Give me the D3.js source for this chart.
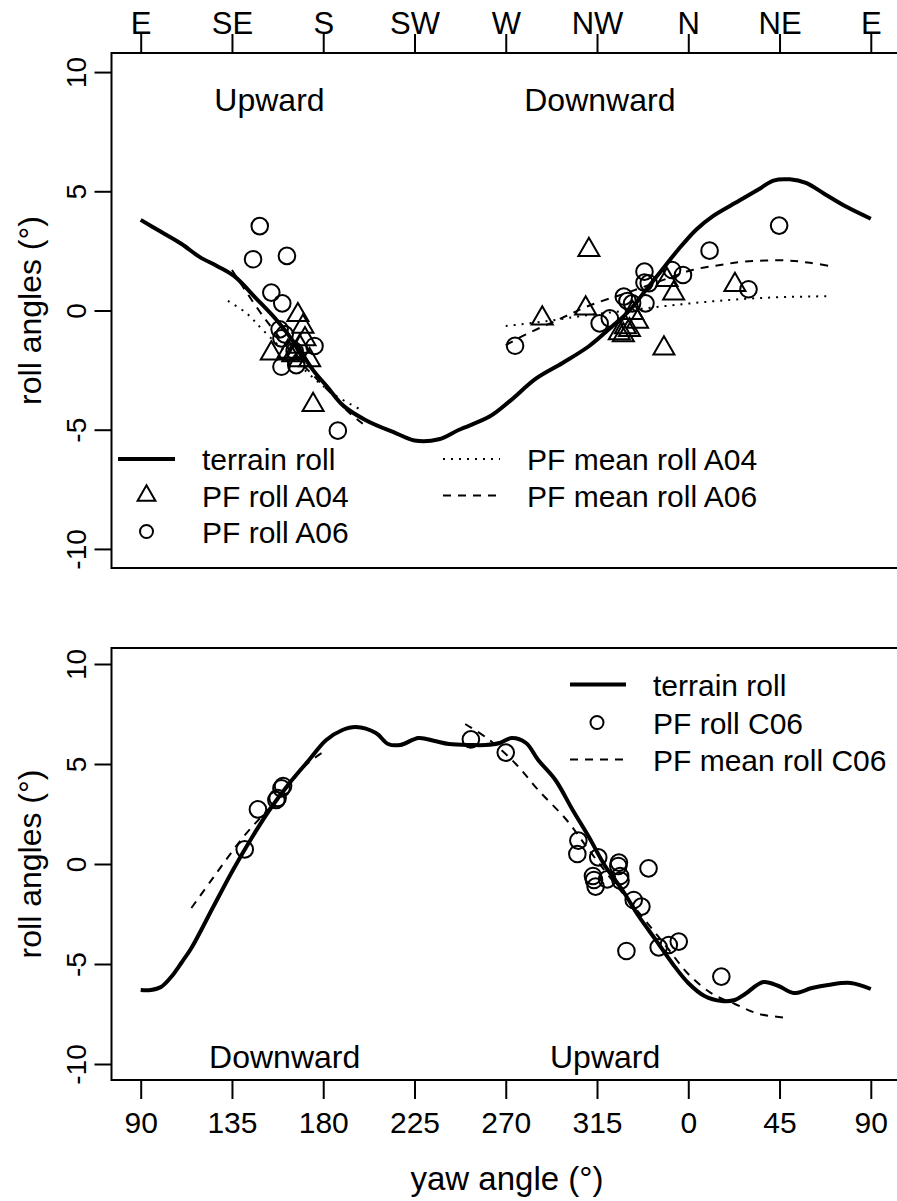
<!DOCTYPE html>
<html>
<head>
<meta charset="utf-8">
<script src="https://cdn.jsdelivr.net/npm/d3@7/dist/d3.min.js"></script>
<style>
  body { margin: 0; background: #fff; }
  svg { display: block; font-family: "Liberation Sans", Arial, sans-serif; }
</style>
</head>
<body>
<script>
// axis ticks (yaw unwrapped from 90 to 450)
var yawTicks = [90, 135, 180, 225, 270, 315, 360, 405, 450];
var yawTickLabels = ["90", "135", "180", "225", "270", "315", "0", "45", "90"];
var compassLabels = ["E", "SE", "S", "SW", "W", "NW", "N", "NE", "E"];
var rollTicks = [-10, -5, 0, 5, 10];

// top panel: terrain roll
var topTerrainYaw = [90, 100, 110, 119, 128, 136, 147, 157, 167, 175, 182, 190, 201, 216, 225, 237, 247, 262, 272, 285, 298, 311, 322, 331, 339, 347, 355, 364, 372, 385, 395, 402, 410, 418, 427, 438, 450];
var topTerrainRoll = [3.8, 3.3, 2.8, 2.25, 1.85, 1.45, 0.5, -0.4, -1.5, -2.5, -3.2, -4.0, -4.6, -5.15, -5.45, -5.4, -5.0, -4.45, -3.8, -2.85, -2.2, -1.5, -0.7, 0.0, 0.85, 1.7, 2.55, 3.4, 3.95, 4.6, 5.1, 5.45, 5.5, 5.35, 4.9, 4.35, 3.85];

// top panel: PF mean roll A04 (two sections)
var meanA04Yaw1 = [133, 142, 150, 167, 185, 199.5];
var meanA04Roll1 = [0.4, -0.1, -0.8, -2.2, -3.5, -4.2];
var meanA04Yaw2 = [270, 290, 310, 330, 350, 370, 390, 410, 431];
var meanA04Roll2 = [-0.65, -0.45, -0.2, 0.0, 0.2, 0.37, 0.5, 0.57, 0.6];

// top panel: PF mean roll A06 (two sections)
var meanA06Yaw1 = [135, 150, 167, 183, 193, 199.5];
var meanA06Roll1 = [1.7, -0.2, -2.0, -3.4, -4.3, -4.75];
var meanA06Yaw2 = [270, 280, 298, 311, 330, 350, 362, 375, 388, 408, 420, 431];
var meanA06Roll2 = [-1.45, -1.0, -0.3, 0.2, 0.75, 1.35, 1.7, 1.9, 2.05, 2.1, 2.0, 1.85];

// top panel: PF roll A04 points
var ptsA04Yaw = [167.5, 170, 154.4, 168.4, 166.7, 165, 173.3, 168.4, 175, 162.6, 171,
                 311, 288, 309.4, 352.8, 349.5, 383, 348, 335, 332.5, 331, 328, 326, 329];
var ptsA04Roll = [-0.19, -0.68, -1.8, -1.52, -1.8, -1.87, -2.08, -2.08, -3.96, -1.73, -1.2,
                  2.54, -0.33, 0.09, 0.72, 1.28, 1.07, -1.59, -0.47, -0.1, -0.82, -1.03, -0.95, -0.7];

// top panel: PF roll A06 points
var ptsA06Yaw = [148.7, 145.4, 162.1, 154.4, 159.8, 158.5, 159.4, 175.7, 159.4, 166.7, 187.2, 165.9, 161,
                 274.6, 316.3, 321.3, 328.2, 332.3, 338.9, 338.4, 338.4, 340.5, 352, 357.4, 370.5, 389.7, 404.8, 330];
var ptsA06Roll = [3.54, 2.15, 2.29, 0.75, 0.3, -0.79, -1.17, -1.49, -2.36, -2.29, -5.04, -1.7, -1.0,
                  -1.48, -0.54, -0.33, 0.58, 0.3, 0.3, 1.63, 1.17, 1.14, 1.7, 1.49, 2.51, 0.89, 3.56, 0.4];

// bottom panel: terrain roll
var botTerrainYaw = [90, 95, 100, 105, 110, 115, 126, 135.5, 145, 153.5, 163, 173, 181.5, 189.5, 196, 206, 212, 218, 227, 235, 242, 253, 260, 267, 273, 280, 286, 294.5, 303, 311, 319, 327.5, 335.5, 344, 352, 360, 368, 376.5, 383, 388, 397, 404.5, 412, 421, 429, 440, 450];
var botTerrainRoll = [-6.3, -6.3, -6.15, -5.65, -4.95, -4.2, -2.1, -0.3, 1.35, 2.7, 4.0, 5.2, 6.2, 6.7, 6.85, 6.55, 6.0, 5.95, 6.3, 6.15, 6.0, 5.95, 5.95, 6.05, 6.3, 6.05, 5.2, 4.2, 2.7, 1.35, -0.1, -1.3, -2.6, -3.8, -4.95, -5.95, -6.6, -6.85, -6.8, -6.5, -5.9, -6.1, -6.45, -6.2, -6.05, -5.95, -6.25];

// bottom panel: PF mean roll C06 (two sections)
var meanC06Yaw1 = [115, 126, 141, 158, 172, 180];
var meanC06Roll1 = [-2.2, -0.65, 1.4, 3.3, 5.0, 5.6];
var meanC06Yaw2 = [250, 262, 275, 286, 300, 311, 324, 337, 349, 360, 372, 383, 395, 410];
var meanC06Roll2 = [7.0, 6.2, 5.0, 3.7, 2.2, 0.7, -1.0, -2.6, -4.1, -5.5, -6.5, -7.0, -7.5, -7.7];

// bottom panel: PF roll C06 points
var ptsC06Yaw = [141.3, 147.8, 156.9, 157.5, 159.4, 160.2, 252.8, 270, 305.8, 305.3, 315.6, 325.8, 325.5, 340.4, 313.5, 314.3, 313, 320, 326.6, 326.4, 333.1, 336.9, 329.5, 345.4, 350.4, 355.3, 376.3];
var ptsC06Roll = [0.73, 2.73, 3.2, 3.3, 3.78, 3.9, 6.23, 5.57, 1.17, 0.5, 0.33, 0.07, -0.1, -0.22, -0.8, -1.13, -0.6, -0.77, -0.83, -0.6, -1.8, -2.13, -4.35, -4.17, -4.05, -3.88, -5.63];

// annotations (yaw, roll of baseline)
var topNotes = ["Upward", "Downward"];
var topNotesYaw = [153.5, 316.4];
var botNotes = ["Downward", "Upward"];
var botNotesYaw = [161, 319];

// legends
var topLegend1 = ["terrain roll", "PF roll A04", "PF roll A06"];
var topLegend2 = ["PF mean roll A04", "PF mean roll A06"];
var botLegend = ["terrain roll", "PF roll C06", "PF mean roll C06"];

window.onload = function() {
  var w = 897, h = 1201;
  var left = 111.5, right = 900;

  var svg = d3.select("body").append("svg")
    .attr("width", w)
    .attr("height", h);

  var x = d3.scaleLinear().domain([75.6, 464.4]).range([left, right]);
  var yTop = d3.scaleLinear().domain([-10.8, 10.8]).range([568, 53]);
  var yBot = d3.scaleLinear().domain([-10.8, 10.8]).range([1080, 648]);

  function zip(a, b) {
    return a.map(function(d, i) { return [d, b[i]]; });
  }

  function drawLine(y, xs, ys, width, dash) {
    var line = d3.line()
      .x(function(d) { return x(d[0]); })
      .y(function(d) { return y(d[1]); })
      .curve(d3.curveCatmullRom);
    svg.append("path")
      .datum(zip(xs, ys))
      .attr("d", line)
      .attr("fill", "none")
      .attr("stroke", "#000")
      .attr("stroke-width", width)
      .attr("stroke-dasharray", dash)
      .attr("stroke-linejoin", "round");
  }

  // R pch=2 triangle
  function triPath(r) {
    return "M0," + (-1.555 * r) + "L" + (1.347 * r) + "," + (0.778 * r) +
      "L" + (-1.347 * r) + "," + (0.778 * r) + "Z";
  }

  function drawCircles(y, xs, ys, r) {
    svg.append("g").selectAll("circle")
      .data(zip(xs, ys))
      .enter().append("circle")
      .attr("cx", function(d) { return x(d[0]); })
      .attr("cy", function(d) { return y(d[1]); })
      .attr("r", r)
      .attr("fill", "none")
      .attr("stroke", "#000")
      .attr("stroke-width", 2);
  }

  function drawYAxis(y) {
    var g = svg.append("g")
      .attr("transform", "translate(" + left + ",0)")
      .call(d3.axisLeft(y).tickValues(rollTicks).tickSize(17)
        .tickFormat(function(d) { return String(d); }));
    g.select(".domain").remove();
    g.selectAll("line").attr("stroke-width", 2);
    g.selectAll("text")
      .attr("x", null).attr("dy", null)
      .attr("text-anchor", "middle")
      .attr("transform", "translate(-26,0) rotate(-90)")
      .style("font-size", "28px")
      .style("fill", "#000")
      .style("font-family", "Liberation Sans, Arial, sans-serif");
    // title
    svg.append("text")
      .attr("transform", "translate(41," + ((y.range()[0] + y.range()[1]) / 2) + ") rotate(-90)")
      .attr("text-anchor", "middle")
      .style("font-size", "32px")
      .text("roll angles (°)");
  }

  function drawBox(y) {
    svg.append("rect")
      .attr("x", left)
      .attr("y", y.range()[1])
      .attr("width", right - left)
      .attr("height", y.range()[0] - y.range()[1])
      .attr("fill", "none")
      .attr("stroke", "#000")
      .attr("stroke-width", 2);
  }

  // ---------- top panel ----------
  drawLine(yTop, topTerrainYaw, topTerrainRoll, 4, null);
  drawLine(yTop, meanA04Yaw1, meanA04Roll1, 2, "2,6");
  drawLine(yTop, meanA04Yaw2, meanA04Roll2, 2, "2,6");
  drawLine(yTop, meanA06Yaw1, meanA06Roll1, 2, "8,7");
  drawLine(yTop, meanA06Yaw2, meanA06Roll2, 2, "8,7");

  svg.append("g").selectAll("path")
    .data(zip(ptsA04Yaw, ptsA04Roll))
    .enter().append("path")
    .attr("d", triPath(7.8))
    .attr("transform", function(d) { return "translate(" + x(d[0]) + "," + yTop(d[1]) + ")"; })
    .attr("fill", "none")
    .attr("stroke", "#000")
    .attr("stroke-width", 2);

  drawCircles(yTop, ptsA06Yaw, ptsA06Roll, 8.3);

  drawBox(yTop);
  drawYAxis(yTop);

  // top compass axis
  var gTop = svg.append("g")
    .attr("transform", "translate(0," + yTop.range()[1] + ")")
    .call(d3.axisTop(x).tickValues(yawTicks).tickSize(19)
      .tickFormat(function(d, i) { return compassLabels[i]; }));
  gTop.select(".domain").remove();
  gTop.selectAll("line").attr("stroke-width", 2);
  gTop.selectAll("text")
    .attr("y", -19).attr("dy", null)
    .style("font-size", "31px")
    .style("fill", "#000")
    .style("font-family", "Liberation Sans, Arial, sans-serif");

  svg.selectAll(".topNote")
    .data(topNotes)
    .enter().append("text")
    .attr("class", "topNote")
    .attr("x", function(d, i) { return x(topNotesYaw[i]); })
    .attr("y", yTop(8.37))
    .attr("text-anchor", "middle")
    .style("font-size", "32px")
    .text(function(d) { return d; });

  // top legend
  var legY = [459, 495.5, 531.5];
  svg.append("line")
    .attr("x1", 118).attr("x2", 175).attr("y1", legY[0]).attr("y2", legY[0])
    .attr("stroke", "#000").attr("stroke-width", 4);
  svg.append("path")
    .attr("d", triPath(6.6))
    .attr("transform", "translate(146.5," + legY[1] + ")")
    .attr("fill", "none").attr("stroke", "#000").attr("stroke-width", 2);
  svg.append("circle")
    .attr("cx", 146.5).attr("cy", legY[2]).attr("r", 6.5)
    .attr("fill", "none").attr("stroke", "#000").attr("stroke-width", 2);
  svg.selectAll(".leg1")
    .data(topLegend1)
    .enter().append("text")
    .attr("class", "leg1")
    .attr("x", 202)
    .attr("y", function(d, i) { return legY[i] + 11; })
    .style("font-size", "30px")
    .text(function(d) { return d; });

  var dashes = ["2,6", "8,7"];
  svg.selectAll(".legLine2")
    .data(topLegend2)
    .enter().append("line")
    .attr("class", "legLine2")
    .attr("x1", 443).attr("x2", 500)
    .attr("y1", function(d, i) { return legY[i]; })
    .attr("y2", function(d, i) { return legY[i]; })
    .attr("stroke", "#000").attr("stroke-width", 2)
    .attr("stroke-dasharray", function(d, i) { return dashes[i]; });
  svg.selectAll(".leg2")
    .data(topLegend2)
    .enter().append("text")
    .attr("class", "leg2")
    .attr("x", 527)
    .attr("y", function(d, i) { return legY[i] + 11; })
    .style("font-size", "30px")
    .text(function(d) { return d; });

  // ---------- bottom panel ----------
  drawLine(yBot, botTerrainYaw, botTerrainRoll, 4, null);
  drawLine(yBot, meanC06Yaw1, meanC06Roll1, 2, "8,7");
  drawLine(yBot, meanC06Yaw2, meanC06Roll2, 2, "8,7");
  drawCircles(yBot, ptsC06Yaw, ptsC06Roll, 8.3);

  drawBox(yBot);
  drawYAxis(yBot);

  var gBot = svg.append("g")
    .attr("transform", "translate(0," + yBot.range()[0] + ")")
    .call(d3.axisBottom(x).tickValues(yawTicks).tickSize(19)
      .tickFormat(function(d, i) { return yawTickLabels[i]; }));
  gBot.select(".domain").remove();
  gBot.selectAll("line").attr("stroke-width", 2);
  gBot.selectAll("text")
    .attr("y", 53).attr("dy", null)
    .style("font-size", "30px")
    .style("fill", "#000")
    .style("font-family", "Liberation Sans, Arial, sans-serif");

  svg.append("text")
    .attr("x", 507)
    .attr("y", 1190)
    .attr("text-anchor", "middle")
    .style("font-size", "33px")
    .text("yaw angle (°)");

  svg.selectAll(".botNote")
    .data(botNotes)
    .enter().append("text")
    .attr("class", "botNote")
    .attr("x", function(d, i) { return x(botNotesYaw[i]); })
    .attr("y", yBot(-10.2))
    .attr("text-anchor", "middle")
    .style("font-size", "32px")
    .text(function(d) { return d; });

  // bottom legend
  var legYb = [684.5, 722.5, 759.5];
  svg.append("line")
    .attr("x1", 570).attr("x2", 626).attr("y1", legYb[0]).attr("y2", legYb[0])
    .attr("stroke", "#000").attr("stroke-width", 4);
  svg.append("circle")
    .attr("cx", 597).attr("cy", legYb[1]).attr("r", 6.5)
    .attr("fill", "none").attr("stroke", "#000").attr("stroke-width", 2);
  svg.append("line")
    .attr("x1", 570).attr("x2", 626).attr("y1", legYb[2]).attr("y2", legYb[2])
    .attr("stroke", "#000").attr("stroke-width", 2)
    .attr("stroke-dasharray", "8,7");
  svg.selectAll(".legb")
    .data(botLegend)
    .enter().append("text")
    .attr("class", "legb")
    .attr("x", 653)
    .attr("y", function(d, i) { return legYb[i] + 11; })
    .style("font-size", "30px")
    .text(function(d) { return d; });
};
</script>
</body>
</html>
